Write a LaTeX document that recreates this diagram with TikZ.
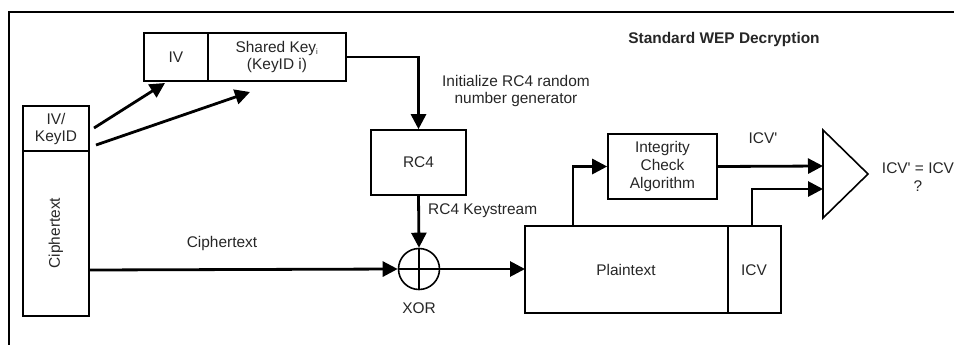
\documentclass[tikz,border=0pt]{standalone}
\usepackage{fontspec}
\setmainfont{Liberation Sans}
\usetikzlibrary{arrows.meta}
\begin{document}
\begin{tikzpicture}[x=1bp,y=-1bp,
  box/.style={draw,line width=1.6bp,inner sep=0pt},
  txt/.style={font=\fontsize{15.5}{18}\selectfont,align=center,inner sep=0pt,text=black!85},
  arr/.style={line width=2.8bp,-{Triangle[length=15bp,width=15bp]}}]
\useasboundingbox (0,0) rectangle (954,344);
\clip (0,0) rectangle (954,344);
% frame
\draw[line width=2.4bp] (9,360) -- (9,12) -- (970,12);
% title
\node[txt,font=\fontsize{15.5}{18}\selectfont\bfseries] (title) at (724,40) {Standard WEP Decryption};
% key boxes
\draw[box] (144,33) rectangle (208,81);
\node[txt] (iv) at (176,57) {IV};
\draw[box] (208,33) rectangle (346,81);
\node[txt] (sk) at (277,57) {Shared Key$_{\scriptscriptstyle\mathrm{i}}$\\(KeyID i)};
\coordinate (ivb) at (165,83);
\coordinate (skb) at (250,92);
\coordinate (skr) at (346,57);
% left frame boxes
\draw[box] (23,106) rectangle (89,151);
\node[txt] (kid) at (56,129) {IV/\\KeyID};
\draw[box] (23,151) rectangle (89,316);
\node[txt,rotate=90] (ct) at (56,233) {Ciphertext};
\coordinate (kid1) at (94,128);
\coordinate (kid2) at (96,145);
\coordinate (ctr) at (89,270);
% RC4
\node[box,minimum width=95bp,minimum height=65bp,txt] (rc4) at (418.5,162.5) {RC4};
\node[txt] (init) at (516,91) {Initialize RC4 random\\number generator};
% XOR
\node[draw,circle,line width=1.6bp,minimum size=41bp,inner sep=0pt] (xor) at (419,269) {};
\draw[line width=1.4bp] (xor.north) -- (xor.south) (xor.west) -- (xor.east);
\node[txt] (xorl) at (419,308) {XOR};
\node[txt,anchor=west] (ks) at (428,211) {RC4 Keystream};
\node[txt] (ctl) at (222,244) {Ciphertext};
% Plaintext
\draw[box] (525,226) rectangle (728,313);
\node[txt] (pt) at (626,270) {Plaintext};
\draw[box] (728,226) rectangle (781,313);
\node[txt] (icv) at (754,270) {ICV};
\coordinate (ptin) at (525,269);
% integrity
\node[box,minimum width=109bp,minimum height=65bp,txt] (ica) at (662.5,166.5) {Integrity\\Check\\Algorithm};
\node[txt] (icvp) at (763,138) {ICV\textquotesingle};
% comparator
\draw[line width=1.6bp] (823,130) -- (868,174) -- (823,218) -- cycle;
\coordinate (cmp1) at (823,166);
\coordinate (cmp2) at (823,189);
\node[txt] (res) at (918,177) {ICV\textquotesingle{} = ICV\\?};
% connectors
\draw[arr] (kid1) -- (ivb);
\draw[arr] (kid2) -- (skb);
\draw[arr] (skr) -| (rc4.north);
\draw[arr] (rc4.south) -- (xor.north);
\draw[arr] (ctr) -- (xor.west);
\draw[arr] (xor.east) -- (ptin);
\draw[arr] (573,226) |- (ica.west);
\draw[arr] (ica.east) -- (cmp1);
\draw[arr] (752,226) |- (cmp2);
\end{tikzpicture}
\end{document}
